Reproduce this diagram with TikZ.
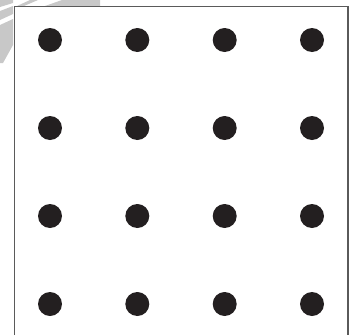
\documentclass[tikz,border=0pt]{standalone}
\definecolor{dotc}{HTML}{231F20}
\definecolor{wm}{HTML}{C8C8C8}
\definecolor{framec}{HTML}{5A5A5A}
\tikzset{pegdot/.style={circle,fill=dotc,minimum size=24pt,inner sep=0pt}}
\begin{document}
\begin{tikzpicture}[x=1pt,y=-1pt]
\useasboundingbox (0,0) rectangle (351,335);
% watermark remnants
\fill[wm] (0,0) -- (13,0) -- (13,3) -- (0,7) -- cycle;
\fill[wm] (0,11) -- (13,6) -- (13,14) -- (0,20) -- cycle;
\fill[wm] (0,25) -- (13,19) -- (13,45) -- (3,63) -- (0,63) -- cycle;
\fill[wm] (17,6) -- (30,0) -- (38,0) -- (24,6) -- cycle;
\fill[wm] (45,6) -- (62,0) -- (100,0) -- (100,6) -- cycle;
% frame
\draw[framec,line width=1.5pt] (14.5,335) -- (14.5,6.5) -- (348,6.5) -- (348,335);
% dots
\foreach \r [count=\i] in {40,128,216,304}{
  \foreach \c [count=\j] in {50,137.3,224.7,312}{
    \node[pegdot] (d\i\j) at (\c,\r) {};
  }
}
\end{tikzpicture}
\end{document}
